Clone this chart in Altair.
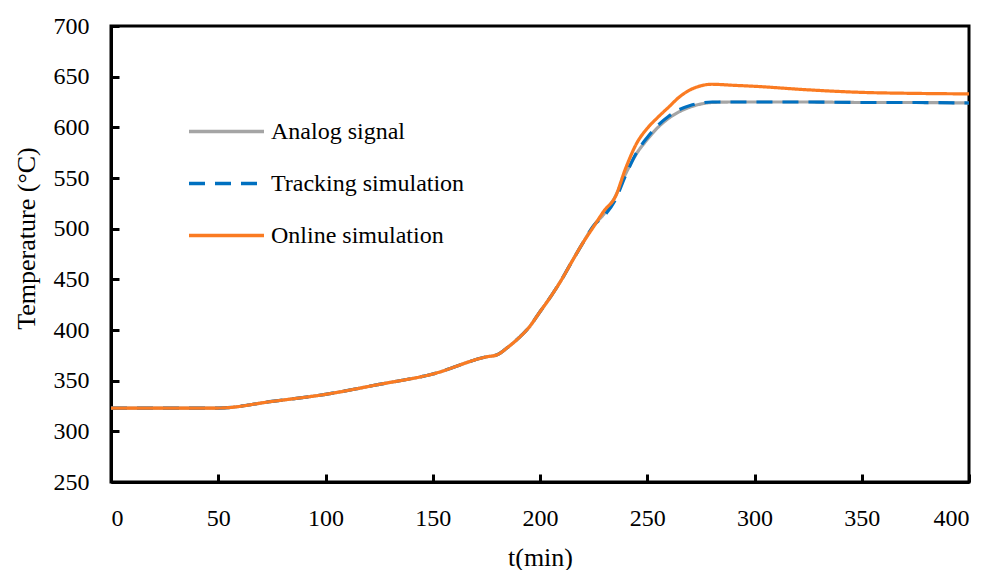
import altair as alt
import pandas as pd

t = [0, 50, 75, 100, 125, 150, 175, 180, 185, 190, 195, 200, 205, 210, 215, 220, 225,
     230, 235, 240, 245, 250, 255, 260, 265, 270, 275, 280, 290, 300, 325, 350, 375, 400]
common = [323, 323, 329.5, 336.5, 346.3, 356.6, 373.5, 375.5, 383, 392, 403, 418, 433,
          449.5, 468, 486, 503]
analog = common + [515, 531.5, 554.5, 574, 588, 600, 609, 615.5, 620, 623, 624.5, 625,
                   625, 625, 624.5, 624.5, 624]
tracking = common + [513, 528, 553, 575, 590, 602, 611, 617.5, 621.5, 624, 625, 625,
                     625, 625, 624.5, 624.5, 624]
online = common[:-1] + [502, 518, 531, 560, 584, 599, 610, 620, 630, 637, 641, 642.5,
                        641.5, 640.5, 637, 634.5, 633.5, 633]

series = ["Analog signal", "Tracking simulation", "Online simulation"]
colors = ["#A5A5A5", "#0070C0", "#FA7B22"]
dashes = [[1, 0], [16, 10], [1, 0]]

y_ticks = [250, 300, 350, 400, 450, 500, 550, 600, 650, 700]
x_ticks = [0, 50, 100, 150, 200, 250, 300, 350, 400]

rows = []
for name, vals in zip(series, [analog, tracking, online]):
    for ti, v in zip(t, vals):
        rows.append({"t": ti, "T": v, "series": name})
df = pd.DataFrame(rows)

W, H = 858, 456
FONT = "Liberation Serif"
xs = alt.Scale(domain=[0, 400], nice=False)
ys = alt.Scale(domain=[250, 700], nice=False, zero=False)

x_enc = alt.X("t:Q", scale=xs,
              axis=alt.Axis(values=x_ticks, title="t(min)", ticks=False, grid=False,
                            labelPadding=24, titlePadding=14))
y_enc = alt.Y("T:Q", scale=ys,
              axis=alt.Axis(values=y_ticks, title="Temperature (\u00b0C)", ticks=False,
                            grid=False, labelPadding=22, titlePadding=14, titleY=212))
color_enc = alt.Color("series:N", scale=alt.Scale(domain=series, range=colors),
                      legend=alt.Legend(title=None, orient="none", legendX=76, legendY=66,
                                        symbolType="stroke", symbolSize=5625,
                                        symbolStrokeWidth=3.5, labelFont=FONT,
                                        labelFontSize=24, labelColor="black",
                                        labelOffset=5, rowPadding=-1.5, padding=0,
                                        labelLimit=400))
dash_enc = alt.StrokeDash("series:N", scale=alt.Scale(domain=series, range=dashes),
                          legend=None)

line_layers = []
for name in series:
    line_layers.append(
        alt.Chart(df).transform_filter(alt.datum.series == name)
        .mark_line(strokeWidth=3.2, interpolate="monotone")
        .encode(x=x_enc, y=y_enc, color=color_enc, strokeDash=dash_enc)
    )
lines = alt.layer(*line_layers)

tick_axis = dict(labels=False, domain=False, title=None, grid=False, ticks=True,
                 tickSize=8, tickWidth=3, tickColor="black", offset=-8)

yt = pd.DataFrame({"v": y_ticks, "x0": [0] * len(y_ticks)})
xt = pd.DataFrame({"v": x_ticks, "y0": [250] * len(x_ticks)})
ytick = alt.Chart(yt).mark_point(opacity=0).encode(
    y=alt.Y("v:Q", scale=ys, axis=alt.Axis(orient="left", values=y_ticks, **tick_axis)),
    x=alt.X("x0:Q", scale=xs, axis=None))
xtick = alt.Chart(xt).mark_point(opacity=0).encode(
    x=alt.X("v:Q", scale=xs, axis=alt.Axis(orient="bottom", values=x_ticks, **tick_axis)),
    y=alt.Y("y0:Q", scale=ys, axis=None))

chart = alt.layer(lines, ytick, xtick).resolve_axis(x="independent", y="independent").properties(
    width=W, height=H, background="white",
    padding={"left": 5, "top": 6, "right": 2, "bottom": 0}
).configure_view(stroke="black", strokeWidth=3).configure_axis(
    domainColor="black", domainWidth=3, labelFont=FONT, labelFontSize=24,
    labelColor="black", titleFont=FONT, titleFontSize=26, titleColor="black",
    titleFontWeight="normal"
)

chart.save("out.html", embed_options={"renderer": "svg", "actions": False})
